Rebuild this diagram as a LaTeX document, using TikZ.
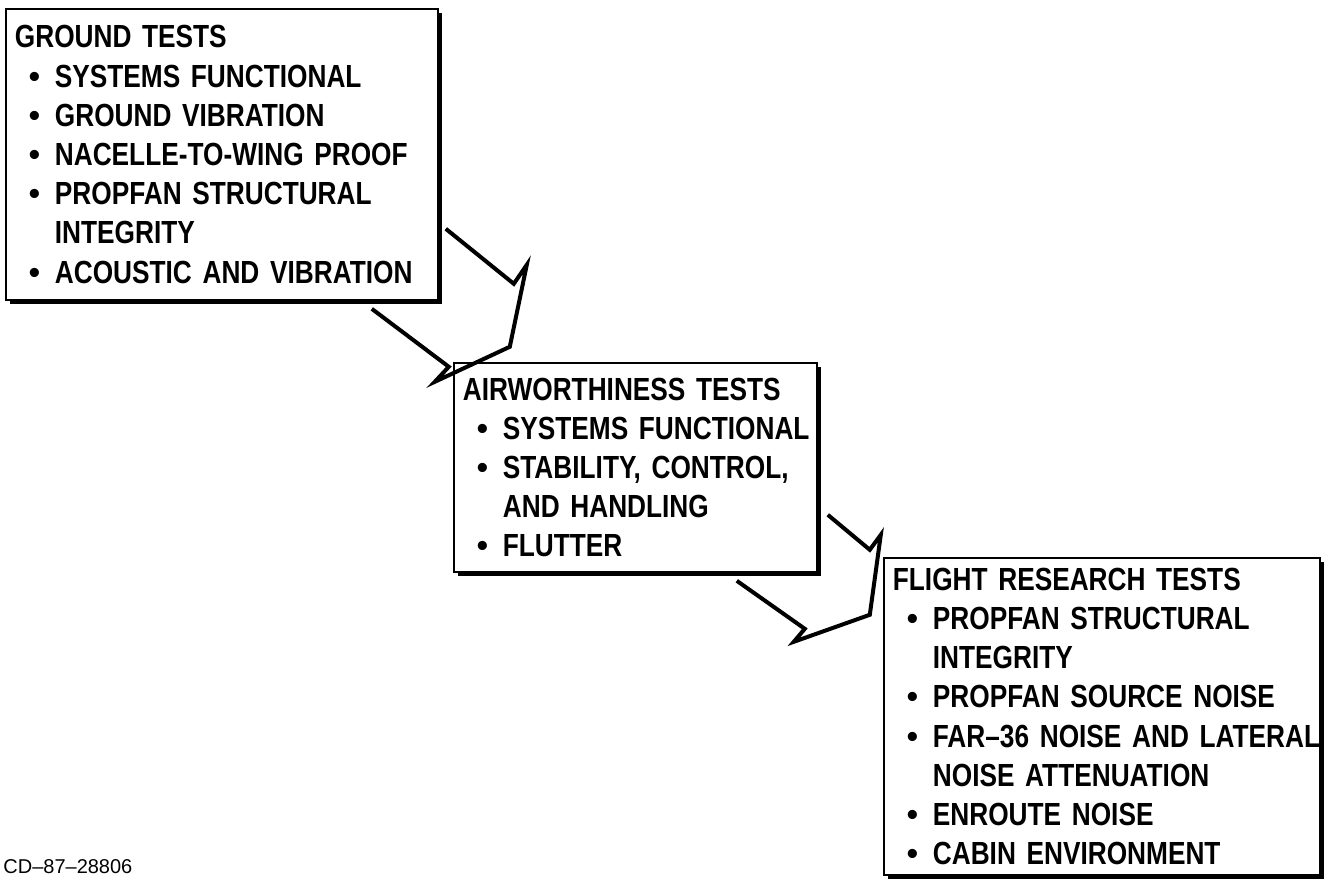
\documentclass[tikz,border=0pt]{standalone}
\usepackage{fontspec}
\usetikzlibrary{calc,shadows}
\newfontfamily\boxfont{Liberation Sans}[FakeStretch=0.82]
\newfontfamily\dotfont{Liberation Sans}
\newcommand{\itm}[1]{\makebox[20pt][l]{\hspace{7pt}{\dotfont\bfseries\textbullet}}\mbox{#1}}
\newcommand{\cont}[1]{\hspace*{20pt}\mbox{#1}}
\tikzset{
  box/.style={draw=black,line width=0.9pt,fill=white,align=left,anchor=north west,
    inner xsep=4.5pt,inner ysep=0pt,font={\boxfont\bfseries\fontsize{16}{19.6}\selectfont},
    drop shadow={fill=black,opacity=1,shadow xshift=2.2pt,shadow yshift=-2.2pt}},
  blockarr/.style={draw=black,line width=2pt,line join=miter,miter limit=20},
  tag/.style={font={\dotfont\fontsize{10}{12}\selectfont},anchor=base west,inner sep=0pt},
}
\begin{document}
\begin{tikzpicture}[x=0.5pt,y=0.5pt]
\useasboundingbox (0,0) rectangle (1330,880);
% test stages
\node[box,text width=207pt,minimum width=216pt,minimum height=145.5pt] (ground) at (5,872)
  {\mbox{GROUND TESTS}\\
   \itm{SYSTEMS FUNCTIONAL}\\
   \itm{GROUND VIBRATION}\\
   \itm{NACELLE-TO-WING PROOF}\\
   \itm{PROPFAN STRUCTURAL}\\
   \cont{INTEGRITY}\\
   \itm{ACOUSTIC AND VIBRATION}};
\node[box,text width=172.5pt,minimum width=181.5pt,minimum height=104.5pt] (air) at (453,518)
  {\mbox{AIRWORTHINESS TESTS}\\
   \itm{SYSTEMS FUNCTIONAL}\\
   \itm{STABILITY, CONTROL,}\\
   \cont{AND HANDLING}\\
   \itm{FLUTTER}};
\node[box,text width=209pt,minimum width=218pt,minimum height=158.5pt] (flight) at (883,323)
  {\mbox{FLIGHT RESEARCH TESTS}\\
   \itm{PROPFAN STRUCTURAL}\\
   \cont{INTEGRITY}\\
   \itm{PROPFAN SOURCE NOISE}\\
   \itm{FAR–36 NOISE AND LATERAL}\\
   \cont{NOISE ATTENUATION}\\
   \itm{ENROUTE NOISE}\\
   \itm{CABIN ENVIRONMENT}};
% outline arrows between stages
\draw[blockarr] ($(ground.south east)+(7,72)$) -- ++(68,-55) -- ++(13,19) -- ++(-17,-82)
  -- ++(-75,-35) -- ++(14,15) -- ++(-77,58);
\draw[blockarr] ($(air.south east)+(10,58)$) -- ++(42,-35) -- ++(11,15) -- ++(-11,-80)
  -- ++(-76,-27) -- ++(11,13) -- ++(-68,48);
\node[tag] (cd) at (3,7) {CD–87–28806};
\end{tikzpicture}
\end{document}
